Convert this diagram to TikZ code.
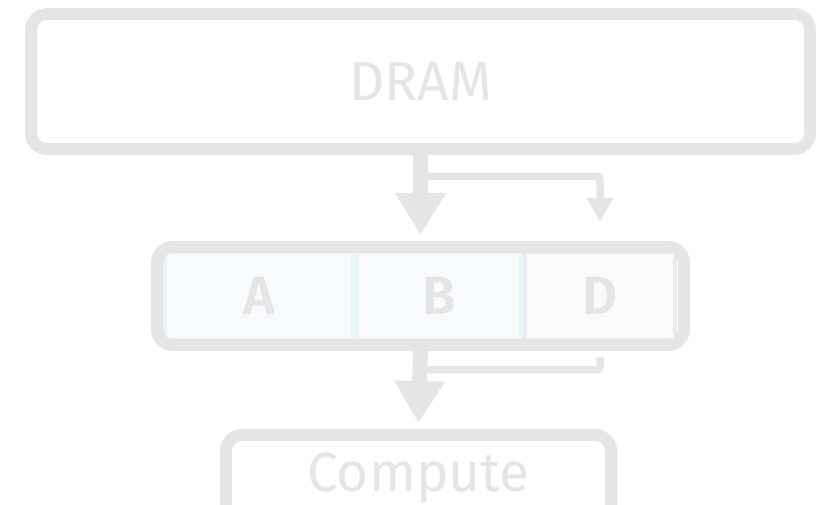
\documentclass[tikz,border=0pt]{standalone}
\usepackage{fontspec}
\setsansfont{Fira Sans}
\newfontfamily\cellfont{Fira Sans SemiBold}
\usepackage{tikz}
\usetikzlibrary{arrows.meta}
\definecolor{frame}{HTML}{E5E5E5}
\definecolor{bufc}{HTML}{EAF5FB}
\definecolor{bufbg}{HTML}{F7FBFD}
\definecolor{dbc}{HTML}{F0E7F4}
\definecolor{dbg}{HTML}{FBF9FC}
\tikzset{
  unit/.style={draw=frame,line width=12pt,rounded corners=16pt,inner sep=0pt,
               text=frame,font=\sffamily\fontsize{55}{60}\selectfont},
  cell/.style={draw=#1,line width=4pt,inner sep=0pt,minimum height=88pt,
               text=frame,font=\cellfont\fontsize{54}{60}\selectfont},
  bigflow/.style={-{Triangle[width=48pt,length=42pt]},line width=15pt,draw=frame},
  sideflow/.style={-{Triangle[width=25pt,length=24pt]},line width=7.5pt,draw=frame,rounded corners=3pt},
  sideline/.style={line width=7.5pt,draw=frame,rounded corners=3pt},
}
\begin{document}
\begin{tikzpicture}[x=1pt,y=-1pt]
  \useasboundingbox (0,0) rectangle (823,505);
  \node[unit,minimum width=779pt,minimum height=135pt] (dram) at (420.5,81.5) {DRAM};
  % buffer cells behind the frame
  \node[cell=bufc,fill=bufbg,minimum width=188pt] (a) at (259,296) {A};
  \node[cell=bufc,fill=bufbg,minimum width=164pt] (b) at (439,296) {B};
  \node[cell=dbc,fill=dbg,minimum width=150pt]   (d) at (600,296) {D};
  \node[unit,minimum width=527pt,minimum height=98pt] (mem) at (420.5,296) {};
  \node[unit,minimum width=385pt,minimum height=87pt] (compute) at (418.5,478.5) {Compute};
  \coordinate (split) at (420.5,176.5);
  \coordinate (join) at (420.5,370);
  \draw[bigflow] (dram.south) -- ([yshift=6pt]mem.north);
  \draw[sideflow] (split) -| ([yshift=19pt]mem.north -| d.center);
  \draw[bigflow] (mem.south) -- ([yshift=6pt]compute.north);
  \draw[sideline] ([yshift=-6pt]mem.south -| d.center) |- (join);
\end{tikzpicture}
\end{document}
